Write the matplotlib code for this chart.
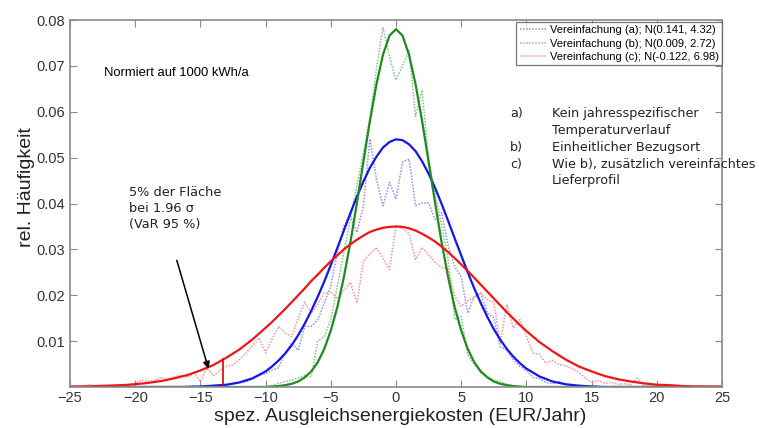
import matplotlib
matplotlib.use("Agg")
import matplotlib.pyplot as plt
import numpy as np

# x positions of the histogram samples (step 0.5) and of the fitted curves
hist_x = np.arange(-25, 25.5, 0.5)
fit_x = list(np.arange(-25, -10, 1)) + list(np.arange(-10, 10.5, 0.5)) + list(np.arange(11, 26, 1))
fit_x_b = [-25, -20, -15, -12] + list(np.arange(-10, 10.5, 0.5)) + [12, 15, 20, 25]

# Vereinfachung (a) - histogram (dotted) and fit (solid)
hist_a = [0, 0, 0, 0, 0, 0, 0, 0, 0, 0,
          0, 0, 0, 0.0001, 0, 0, 0.0001, 0, 0.0002, 0.0003,
          0.0001, 0.0002, 0.0001, 0.0002, 0.0004, 0.0006, 0.0010, 0.0011, 0.0018, 0.0025,
          0.0029, 0.0037, 0.0042, 0.0074, 0.0096, 0.0080, 0.0132, 0.0132, 0.0147, 0.0183,
          0.0220, 0.0293, 0.0351, 0.0373, 0.0337, 0.0395, 0.0541, 0.0453, 0.0395, 0.0446,
          0.0410, 0.0490, 0.0497, 0.0395, 0.0401, 0.0401, 0.0365, 0.0380, 0.0307, 0.0263,
          0.0240, 0.0161, 0.0198, 0.0205, 0.0161, 0.0151, 0.0088, 0.0080, 0.0059, 0.0045,
          0.0036, 0.0021, 0.0018, 0.0010, 0.0007, 0.0012, 0.0006, 0.0004, 0.0002, 0.0001,
          0.0003, 0.0001, 0, 0, 0, 0, 0, 0, 0, 0,
          0, 0, 0, 0, 0, 0, 0, 0, 0, 0,
          0]
fit_a = [0, 0, 0, 0, 0, 0, 0, 0, 0, 0, 0.0001, 0.0003, 0.0005, 0.0010, 0.0019,
         0.0034, 0.0045, 0.0058, 0.0073, 0.0091, 0.0113, 0.0138, 0.0166, 0.0197, 0.0230,
         0.0266, 0.0303, 0.0341, 0.0379, 0.0415, 0.0448, 0.0478, 0.0502, 0.0522, 0.0534,
         0.0540,
         0.0538, 0.0529, 0.0514, 0.0492, 0.0465, 0.0434, 0.0399, 0.0362, 0.0324, 0.0287,
         0.0250, 0.0215, 0.0183, 0.0153, 0.0126, 0.0103, 0.0083, 0.0066, 0.0052, 0.0040,
         0.0023, 0.0012, 0.0006, 0.0003, 0.0001, 0, 0, 0, 0, 0, 0, 0, 0, 0, 0]

# Vereinfachung (b)
hist_b = [0, 0, 0, 0, 0, 0, 0, 0, 0, 0,
          0, 0, 0, 0, 0, 0, 0, 0, 0, 0,
          0, 0, 0, 0, 0, 0, 0, 0, 0, 0.0001,
          0.0001, 0.0003, 0.0008, 0.0012, 0.0015, 0.0020, 0.0025, 0.0022, 0.0100, 0.0110,
          0.0147, 0.0220, 0.0293, 0.0365, 0.0439, 0.0510, 0.0585, 0.0694, 0.0783, 0.0720,
          0.0669, 0.0700, 0.0734, 0.0590, 0.0647, 0.0497, 0.0424, 0.0351, 0.0278, 0.0147,
          0.0154, 0.0070, 0.0050, 0.0031, 0.0023, 0.0015, 0.0012, 0.0005, 0.0003, 0.0001,
          0, 0, 0, 0, 0, 0, 0, 0, 0, 0,
          0, 0, 0, 0, 0, 0, 0, 0, 0, 0,
          0, 0, 0, 0, 0, 0, 0, 0, 0, 0,
          0]
fit_b = [0, 0, 0, 0,
         0.0000, 0.0001, 0.0002, 0.0004, 0.0007, 0.0012, 0.0021, 0.0034, 0.0054, 0.0083,
         0.0123, 0.0174, 0.0239, 0.0315, 0.0401, 0.0491, 0.0580, 0.0660, 0.0724, 0.0766,
         0.0780,
         0.0766, 0.0724, 0.0660, 0.0580, 0.0491, 0.0401, 0.0315, 0.0239, 0.0174, 0.0123,
         0.0083, 0.0054, 0.0034, 0.0021, 0.0012, 0.0007, 0.0004, 0.0002, 0.0001, 0.0000,
         0, 0, 0, 0]

# Vereinfachung (c)
hist_c = [0.0000, 0.0002, 0.0003, 0.0005, 0.0003, 0.0004, 0.0002, 0.0003, 0.0005, 0.0004,
          0.0008, 0.0015, 0.0012, 0.0014, 0.0021, 0.0016, 0.0022, 0.0026, 0.0020, 0.0030,
          0.0012, 0.0041, 0.0024, 0.0037, 0.0045, 0.0048, 0.0060, 0.0074, 0.0090, 0.0107,
          0.0074, 0.0105, 0.0132, 0.0118, 0.0110, 0.0150, 0.0185, 0.0161, 0.0180, 0.0205,
          0.0208, 0.0192, 0.0210, 0.0228, 0.0183, 0.0275, 0.0290, 0.0304, 0.0280, 0.0256,
          0.0351, 0.0345, 0.0335, 0.0278, 0.0304, 0.0288, 0.0272, 0.0260, 0.0258, 0.0198,
          0.0176, 0.0188, 0.0195, 0.0205, 0.0190, 0.0185, 0.0096, 0.0180, 0.0129, 0.0147,
          0.0110, 0.0074, 0.0071, 0.0052, 0.0058, 0.0049, 0.0046, 0.0040, 0.0032, 0.0020,
          0.0010, 0.0014, 0.0008, 0.0010, 0.0006, 0.0007, 0.0005, 0.0019, 0.0004, 0.0003,
          0.0004, 0.0002, 0.0003, 0.0002, 0.0001, 0.0002, 0.0001, 0.0002, 0.0001, 0.0000,
          0.0000]
fit_c = [0.0001, 0.0001, 0.0002, 0.0003, 0.0004, 0.0006, 0.0009, 0.0013, 0.0019, 0.0026,
         0.0036, 0.0048, 0.0064, 0.0082, 0.0104,
         0.0129, 0.0142, 0.0156, 0.0170, 0.0185, 0.0200, 0.0215, 0.0231, 0.0245, 0.0260,
         0.0274, 0.0287, 0.0300, 0.0311, 0.0321, 0.0330, 0.0338, 0.0343, 0.0347, 0.0349,
         0.0350,
         0.0349, 0.0346, 0.0341, 0.0334, 0.0326, 0.0317, 0.0306, 0.0294, 0.0281, 0.0267,
         0.0253, 0.0238, 0.0223, 0.0208, 0.0193, 0.0178, 0.0163, 0.0149, 0.0135, 0.0122,
         0.0098, 0.0078, 0.0060, 0.0045, 0.0034, 0.0024, 0.0017, 0.0012, 0.0008, 0.0005,
         0.0004, 0.0002, 0.0001, 0.0001, 0.0001]

labels = ["Vereinfachung (a); N(0.141, 4.32)",
          "Vereinfachung (b); N(0.009, 2.72)",
          "Vereinfachung (c); N(-0.122, 6.98)"]

var_x = -13.3      # VaR 95 % of (c)
var_y = 0.0061

fig = plt.figure(figsize=(7.59, 4.28), dpi=100)
ax = fig.add_axes([70 / 759, 41 / 428, 652 / 759, 367 / 428])

# histograms (fine dotted, light)
dots = (0, (1, 1))
h1, = ax.plot(hist_x, hist_a, ls=dots, lw=1.1, color="#8e8ef7", label=labels[0])
h2, = ax.plot(hist_x, hist_b, ls=dots, lw=1.1, color="#82c482", label=labels[1])
h3, = ax.plot(hist_x, hist_c, ls=dots, lw=1.1, color="#f79494", label=labels[2])

# fitted normal curves
ax.plot(fit_x, fit_a, color="#1515f0", lw=1.6)
ax.plot(fit_x_b, fit_b, color="#1f8a1f", lw=1.6)
ax.plot(fit_x, fit_c, color="#f01515", lw=1.6)

ax.plot([var_x, var_x], [0, var_y], color="#e00000", lw=1.2)

ax.set_xlim(-25, 25)
ax.set_ylim(0, 0.08)
ax.set_xticks(np.arange(-25, 26, 5))
ax.set_yticks([0.01, 0.02, 0.03, 0.04, 0.05, 0.06, 0.07, 0.08])
ax.set_yticklabels(["0.01", "0.02", "0.03", "0.04", "0.05", "0.06", "0.07", "0.08"])

for s in ax.spines.values():
    s.set_color("#8a8a8a")
    s.set_linewidth(1.2)
ax.tick_params(direction="in", top=True, right=True, length=5, color="#8a8a8a",
               labelsize=10.5, labelcolor="#333333")
ax.tick_params(axis="x", pad=3)
for t in ax.get_xticklabels() + ax.get_yticklabels():
    t.set_family("Liberation Sans")

ax.set_ylabel("rel. Häufigkeit", fontsize=14, family="Liberation Sans", color="#222222")
ax.yaxis.set_label_coords(-0.053, 0.545)
ax.set_xlabel("spez. Ausgleichsenergiekosten (EUR/Jahr)", fontsize=14,
              family="Liberation Sans", color="#222222")
ax.xaxis.set_label_coords(0.506, -0.056)

leg = ax.legend(handles=[h1, h2, h3], loc="upper right", bbox_to_anchor=(1.0, 0.995),
                borderaxespad=0, frameon=True, fancybox=False,
                handlelength=2.4, handletextpad=0.3, borderpad=0.3, labelspacing=0.3,
                prop={"family": "Liberation Sans", "size": 8})
leg.get_frame().set_edgecolor("#555555")
leg.get_frame().set_linewidth(0.9)

ax.text(-22.4, 0.0685, "Normiert auf 1000 kWh/a", fontsize=9.4, family="Liberation Sans",
        va="center", ha="left")

for txt, yy in zip(["5% der Fläche", "bei 1.96 σ", "(VaR 95 %)"], [0.0425, 0.0389, 0.0355]):
    ax.text(-20.5, yy, txt, fontsize=9.3, family="DejaVu Sans", va="center", ha="left",
            color="#222222")

ax.annotate("", xy=(-14.32, 0.0034), xytext=(-16.87, 0.0282),
            arrowprops=dict(arrowstyle="-|>", color="black", lw=1.1, mutation_scale=10))

right_marks = ["a)", "", "b)", "c)", ""]
right_lines = ["Kein jahresspezifischer", "Temperaturverlauf", "Einheitlicher Bezugsort",
               "Wie b), zusätzlich vereinfachtes", "Lieferprofil"]
right_y = [0.0596, 0.0559, 0.0523, 0.0486, 0.0450]
for m, txt, yy in zip(right_marks, right_lines, right_y):
    ax.text(8.74, yy, m, fontsize=9.2, family="DejaVu Sans", va="center", ha="left",
            color="#222222", clip_on=False)
    ax.text(11.96, yy, txt, fontsize=9.2, family="DejaVu Sans", va="center", ha="left",
            color="#222222", clip_on=False)

fig.savefig("out.png", dpi=100)
